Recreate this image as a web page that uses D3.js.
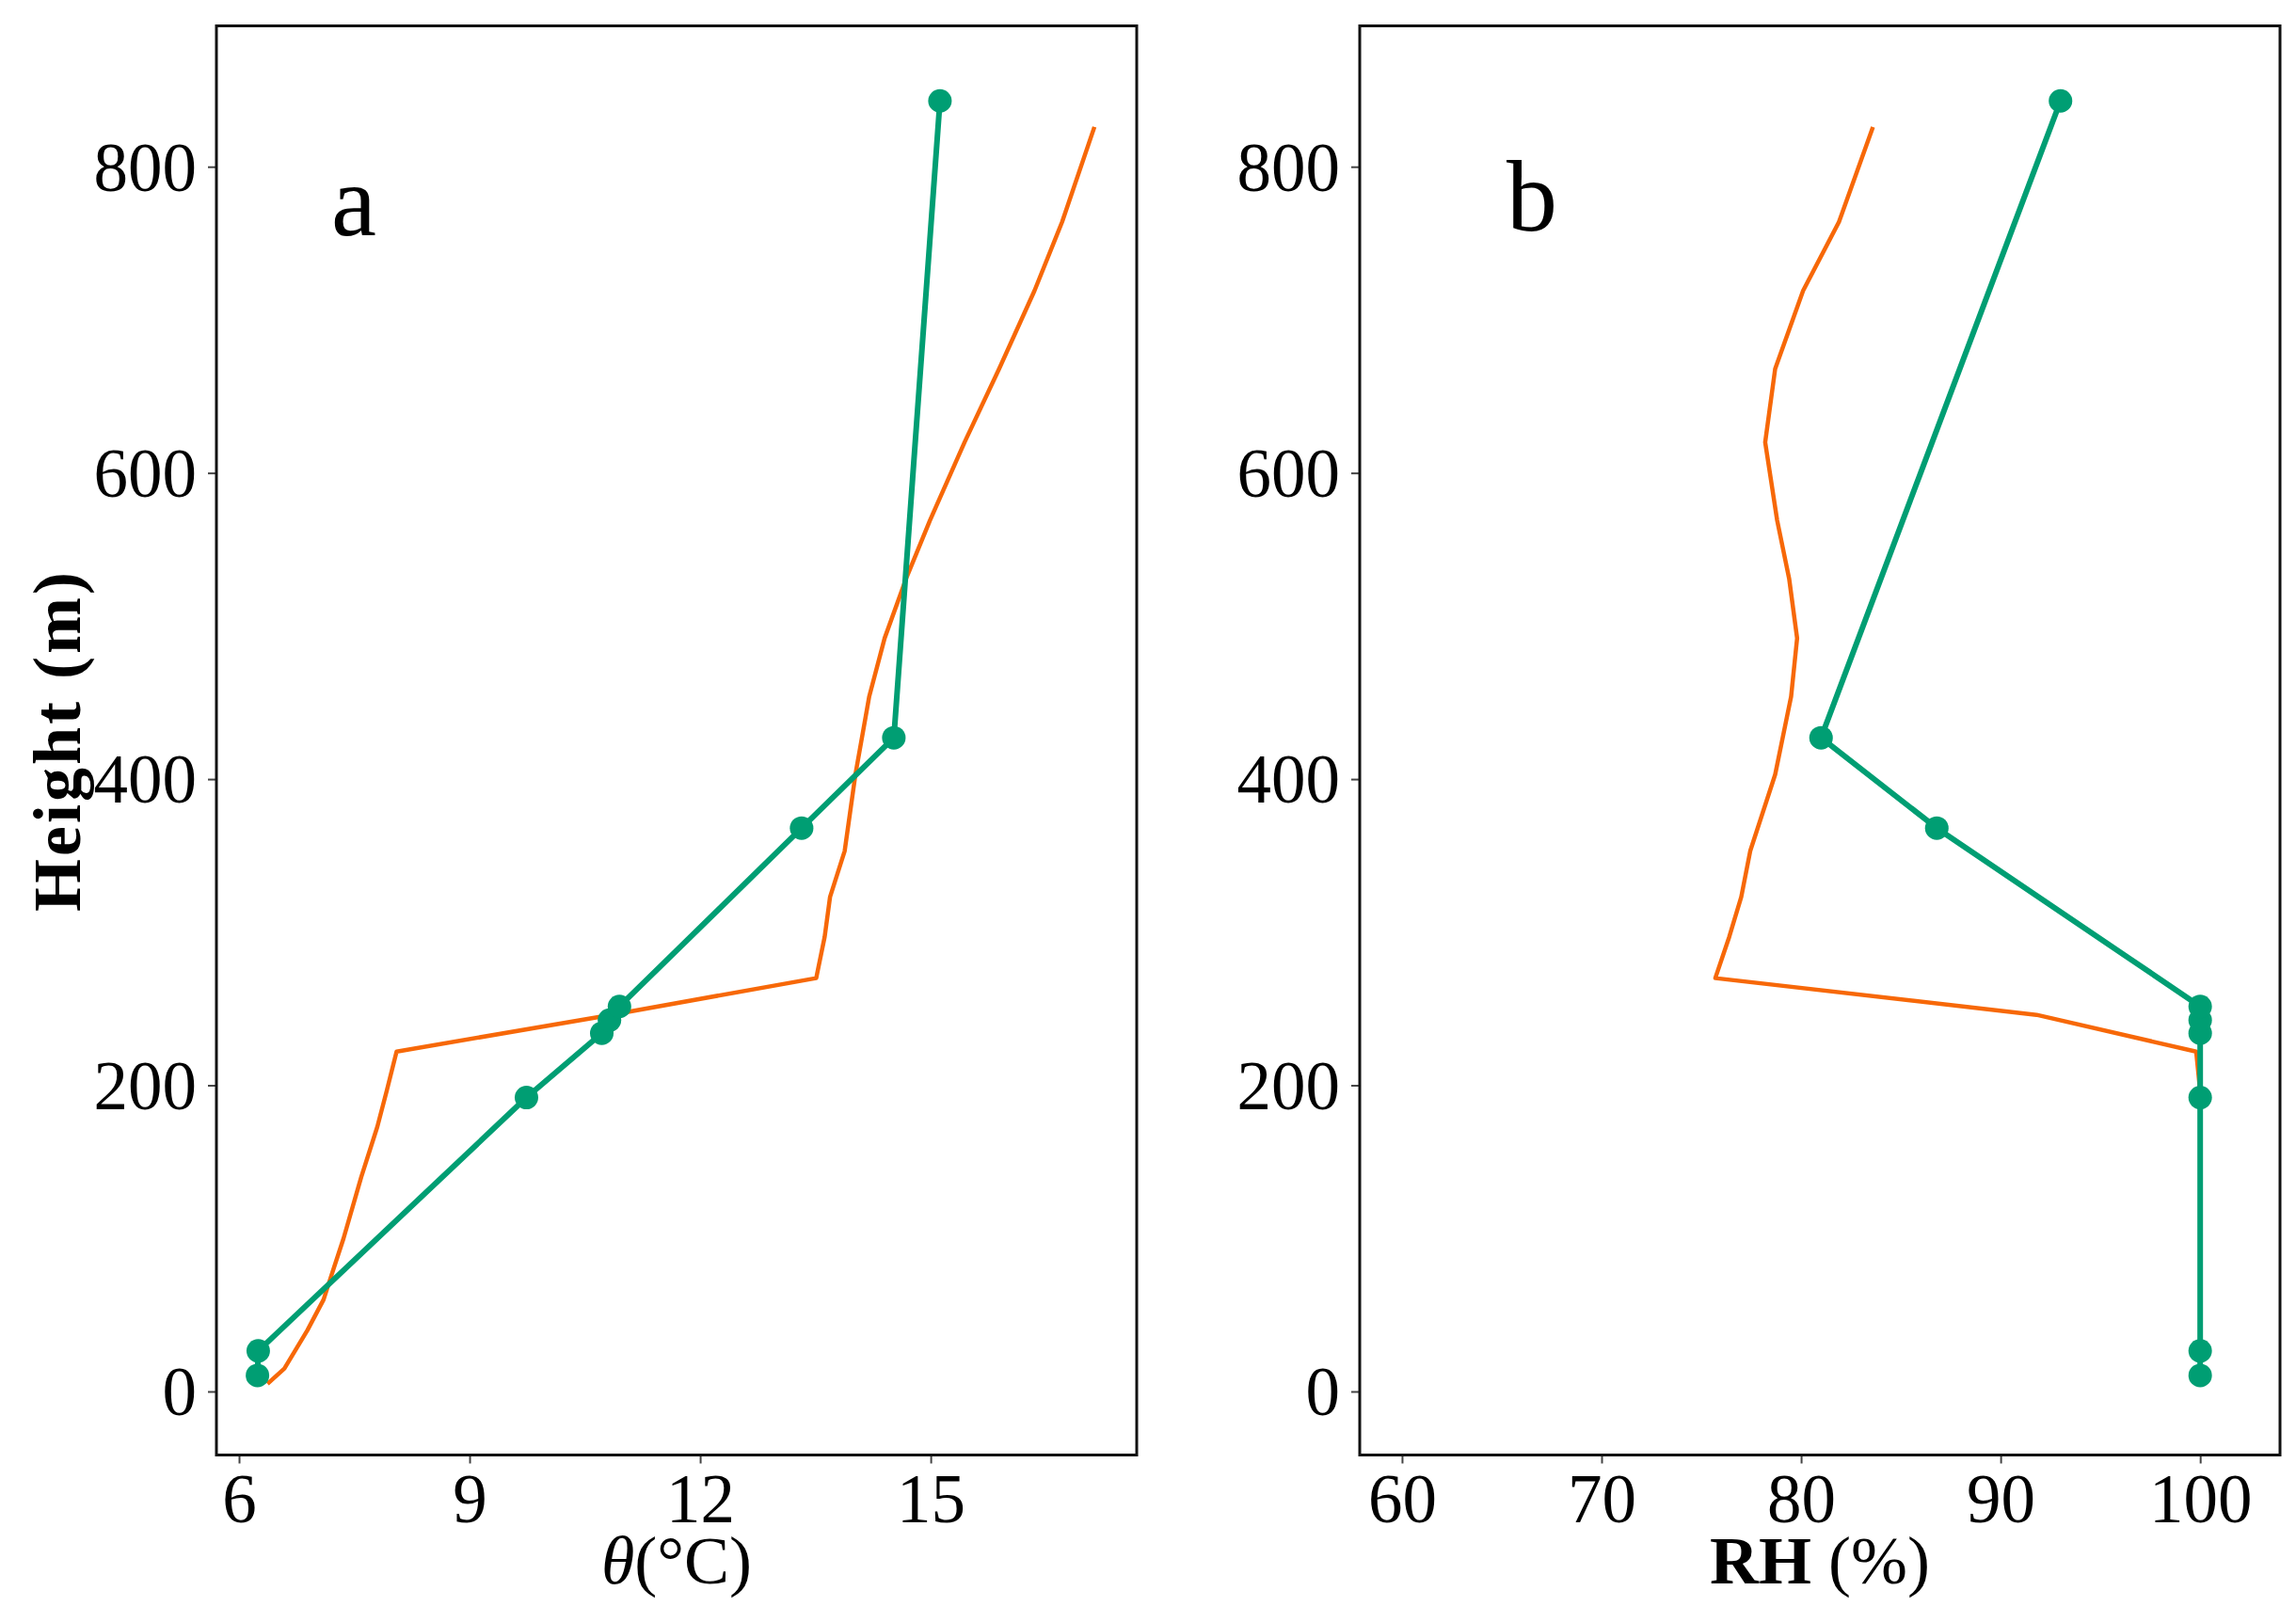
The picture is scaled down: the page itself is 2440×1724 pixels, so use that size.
<!DOCTYPE html>
<html>
<head>
<meta charset="utf-8">
<script src="https://cdn.jsdelivr.net/npm/d3@7"></script>
<style>
  body { margin: 0; background: #fff; }
  svg { display: block; }
</style>
</head>
<body>
<svg id="chart"></svg>
<script>
// observed sounding (green, with markers)
const obsHeight = [10.5, 26.5, 192, 234, 242.5, 251.5, 368, 427, 843];
const obsTheta = [6.24, 6.25, 9.74, 10.72, 10.82, 10.95, 13.32, 14.52, 15.12];
const obsRh = [100, 100, 100, 100, 100, 100, 86.8, 81.0, 93.0];

// model profile (orange line)
const modelHeight = [5, 15, 40, 60, 77, 100, 140, 173, 196, 222, 246, 270, 297, 323, 353, 403, 454, 492, 531, 569, 620, 668, 719, 764, 826];
const modelTheta = [6.37, 6.59, 6.89, 7.10, 7.21, 7.36, 7.59, 7.80, 7.92, 8.05, 10.84, 13.51, 13.62, 13.69, 13.88, 14.02, 14.20, 14.40, 14.68, 14.99, 15.44, 15.89, 16.35, 16.71, 17.13];
const modelRh = [100, 100, 100, 100, 100, 100, 100, 100, 100, 99.8, 91.8, 75.7, 76.4, 77.0, 77.45, 78.7, 79.5, 79.8, 79.4, 78.8, 78.2, 78.7, 80.1, 81.9, 83.6];

const heightTicks = [0, 200, 400, 600, 800];
const thetaTicks = [6, 9, 12, 15];
const rhTicks = [60, 70, 80, 90, 100];

const width = 2440;
const height = 1724;

const dim = {
  top: 27.5,
  bottom: 1546.5,
  panelWidth: 978,
  tickSize: 9,
  tickFont: 73,
};

const colours = { obs: '#009E73', model: '#F76808' };
const serif = "'Liberation Serif', 'Times New Roman', serif";

const svg = d3.select('#chart')
  .attr('width', width)
  .attr('height', height);

svg.append('rect').attr('width', width).attr('height', height).attr('fill', '#fff');

const yScale = d3.scaleLinear().domain([-41.5, 892]).range([dim.bottom, dim.top]);

const panels = [
  { left: 230, label: 'a', labelX: 146, labelY: 250, domain: [5.706, 17.68], ticks: thetaTicks, obs: obsTheta, model: modelTheta },
  { left: 1445, label: 'b', labelX: 183, labelY: 245, domain: [57.88, 104.0], ticks: rhTicks, obs: obsRh, model: modelRh },
];

panels.forEach((panel, index) => {
  const xScale = d3.scaleLinear().domain(panel.domain).range([0, dim.panelWidth]);
  const g = svg.append('g').attr('transform', `translate(${panel.left}, 0)`);

  // y axis
  const yAxis = g.append('g')
    .call(d3.axisLeft(yScale).tickValues(heightTicks).tickSize(dim.tickSize).tickPadding(12).tickFormat(d3.format('d')));
  // x axis
  const xAxis = g.append('g')
    .attr('transform', `translate(0, ${dim.bottom})`)
    .call(d3.axisBottom(xScale).tickValues(panel.ticks).tickSize(dim.tickSize).tickPadding(12).tickFormat(d3.format('d')));

  [yAxis, xAxis].forEach(axis => {
    axis.select('.domain').remove();
    axis.selectAll('.tick line').attr('stroke', '#444').attr('stroke-width', 2);
    axis.selectAll('.tick text')
      .attr('fill', '#000')
      .style('font-family', serif)
      .style('font-size', `${dim.tickFont}px`);
  });
  yAxis.selectAll('.tick text').attr('dy', '0.34em');
  xAxis.selectAll('.tick text').attr('dy', null).attr('y', 1618 - dim.bottom);

  // model line
  const modelLine = d3.line()
    .x((d, i) => xScale(panel.model[i]))
    .y(d => yScale(d));
  g.append('path')
    .datum(modelHeight)
    .attr('d', modelLine)
    .attr('fill', 'none')
    .attr('stroke', colours.model)
    .attr('stroke-width', 4.5)
    .attr('stroke-linejoin', 'round');

  // observed line + points
  const obsLine = d3.line()
    .x((d, i) => xScale(panel.obs[i]))
    .y(d => yScale(d));
  g.append('path')
    .datum(obsHeight)
    .attr('d', obsLine)
    .attr('fill', 'none')
    .attr('stroke', colours.obs)
    .attr('stroke-width', 6)
    .attr('stroke-linejoin', 'round');
  g.selectAll('circle.obs')
    .data(obsHeight)
    .enter().append('circle')
    .attr('class', 'obs')
    .attr('cx', (d, i) => xScale(panel.obs[i]))
    .attr('cy', d => yScale(d))
    .attr('r', 12.5)
    .attr('fill', colours.obs);

  // panel border
  g.append('rect')
    .attr('x', 0)
    .attr('y', dim.top)
    .attr('width', dim.panelWidth)
    .attr('height', dim.bottom - dim.top)
    .attr('fill', 'none')
    .attr('stroke', '#111')
    .attr('stroke-width', 3);

  // panel letter
  g.append('text')
    .attr('x', panel.labelX)
    .attr('y', panel.labelY)
    .attr('text-anchor', 'middle')
    .style('font-family', serif)
    .style('font-size', '108px')
    .text(panel.label);

  // x axis title
  const title = g.append('text')
    .attr('x', dim.panelWidth / 2)
    .attr('y', 1683)
    .attr('text-anchor', 'middle')
    .style('font-family', serif)
    .style('font-size', '72px');
  if (index === 0) {
    title.append('tspan').style('font-style', 'italic').text('θ');
    title.append('tspan').text('(°C)');
  } else {
    title.append('tspan').style('font-weight', 'bold').text('RH');
    title.append('tspan').text(' (%)');
  }
});

// y axis title
svg.append('text')
  .attr('transform', `translate(85, ${(dim.top + dim.bottom) / 2}) rotate(-90)`)
  .attr('text-anchor', 'middle')
  .style('font-family', serif)
  .style('font-weight', 'bold')
  .style('font-size', '72px')
  .style('letter-spacing', '3px')
  .text('Height (m)');
</script>
</body>
</html>
